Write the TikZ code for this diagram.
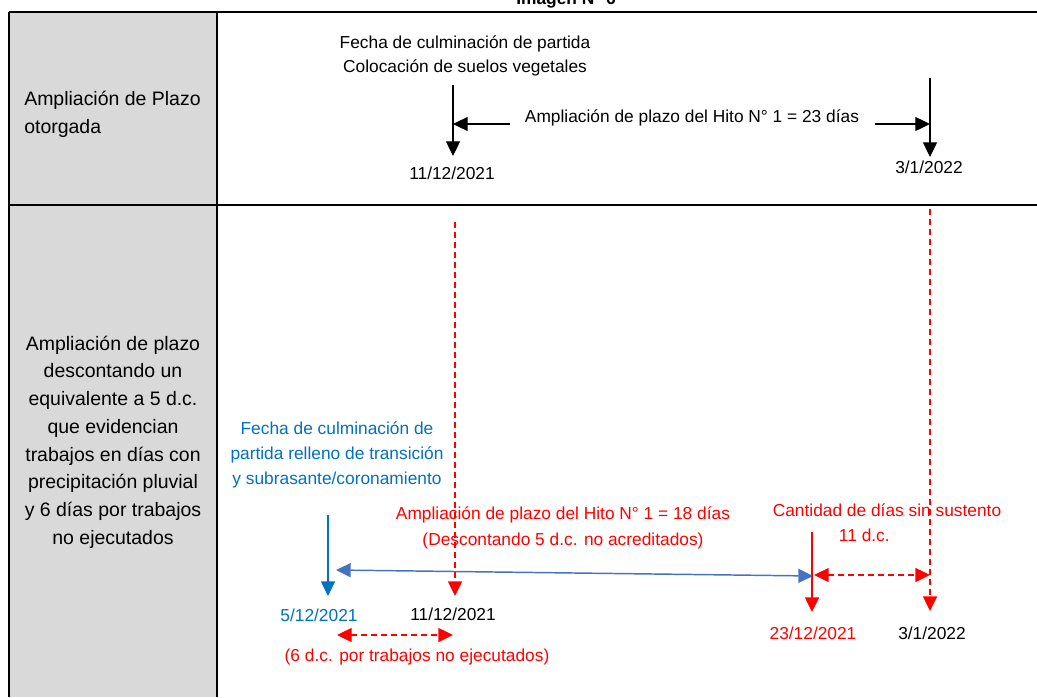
\documentclass[tikz,border=0pt]{standalone}
\usepackage{fontspec}
\setmainfont{Liberation Sans}
\usetikzlibrary{arrows.meta}
\definecolor{cellgray}{HTML}{D9D9D9}
\definecolor{tred}{HTML}{FF0000}
\definecolor{tblue}{HTML}{0070C0}
\definecolor{lblue}{HTML}{4472C4}
\tikzset{
  tbl/.style={line width=1.6pt, black},
  tip/.style={-{Triangle[length=11pt,width=10.5pt]}},
  tipboth/.style={{Triangle[length=11pt,width=10.5pt]}-{Triangle[length=11pt,width=10.5pt]}},
  blk/.style={line width=0.9pt, black},
  redsolid/.style={line width=1.1pt, tred},
  reddash/.style={line width=1pt, tred, dash pattern=on 4.5pt off 3pt},
  bluel/.style={line width=1.1pt, tblue},
  bluh/.style={line width=1.1pt, lblue},
  lbl/.style={font=\fontsize{13}{17.5}\selectfont, inner sep=0pt, align=center},
  lbl2/.style={font=\fontsize{13}{19}\selectfont, inner sep=0pt, align=center},
  side/.style={font=\fontsize{14.6}{20.8}\selectfont, inner sep=0pt},
}
\begin{document}
\begin{tikzpicture}[x=0.75pt,y=-0.75pt]
\useasboundingbox (0,0) rectangle (1037,697);
% title (cut by page edge)
\node[anchor=base, font=\fontsize{13}{15}\selectfont\bfseries, inner sep=0pt] (title) at (566,4) {Imagen N° 6};
% table
\fill[cellgray] (9,12) rectangle (217,697);
\draw[tbl] (9,12) -- (1037,12);
\draw[tbl] (9,205) -- (1037,205);
\draw[tbl] (9,12) -- (9,697);
\draw[tbl] (217,12) -- (217,697);
% left column texts
\node[side, anchor=west, align=left] (row1) at (24,114) {Ampliación de Plazo\\otorgada};
\node[side, align=center] (row2) at (113,442) {Ampliación de plazo\\descontando un\\equivalente a 5 d.c.\\que evidencian\\trabajos en días con\\precipitación pluvial\\y 6 días por trabajos\\no ejecutados};
% ---------- top row ----------
\node[lbl] (fecha1) at (465,56) {Fecha de culminación de partida\\Colocación de suelos vegetales};
\node[lbl] (amp23) at (692,118) {Ampliación de plazo del Hito N° 1 = 23 días};
\node[lbl] (d1112a) at (452,173) {11/12/2021};
\node[lbl] (d0301a) at (929,167) {3/1/2022};
\coordinate (t1s) at (453,85);
\coordinate (t1e) at (453,156);
\coordinate (t2s) at (930,78);
\coordinate (t2e) at (930,157);
\coordinate (h1s) at (510,124);
\coordinate (h1e) at (453,124);
\coordinate (h2s) at (875,124);
\coordinate (h2e) at (930,124);
\draw[blk, tip] (t1s) -- (t1e);
\draw[blk, tip] (t2s) -- (t2e);
\draw[blk, tip] (h1s) -- (h1e);
\draw[blk, tip] (h2s) -- (h2e);
% ---------- bottom row ----------
\node[lbl2, text=tblue] (fecha2) at (337,455) {Fecha de culminación de\\partida relleno de transición\\y subrasante/coronamiento};
\node[lbl2, text=tred] (amp18) at (563,528) {Ampliación de plazo del Hito N° 1 = 18 días\\(Descontando 5 d.c. no acreditados)};
\node[lbl2, text=tred] (cant) at (887,523) {Cantidad de días sin sustento\\\hspace*{-34pt}11 d.c.};
\node[lbl, text=tblue] (d0512) at (319,615) {5/12/2021};
\node[lbl] (d1112b) at (453,614) {11/12/2021};
\node[lbl, text=tred] (d2312) at (813,633) {23/12/2021};
\node[lbl] (d0301b) at (932,633) {3/1/2022};
\node[lbl, text=tred] (seis) at (417,657) {(6 d.c. por trabajos no ejecutados)};
\coordinate (r1s) at (455,222);
\coordinate (r1e) at (455,596);
\coordinate (r2s) at (930,209);
\coordinate (r2e) at (930,611);
\coordinate (b1s) at (328,515);
\coordinate (b1e) at (328,596);
\coordinate (bhL) at (336,570);
\coordinate (bhR) at (813,576);
\coordinate (r3s) at (812,532);
\coordinate (r3e) at (812,612);
\coordinate (rdL) at (814,575);
\coordinate (rdR) at (930,575);
\coordinate (r6L) at (337,635);
\coordinate (r6R) at (453,635);
\draw[reddash, tip] (r1s) -- (r1e);
\draw[reddash, tip] (r2s) -- (r2e);
\draw[bluel, tip] (b1s) -- (b1e);
\draw[bluh, tipboth] (bhL) -- (bhR);
\draw[redsolid, tip] (r3s) -- (r3e);
\draw[reddash, tipboth] (rdL) -- (rdR);
\draw[reddash, tipboth] (r6L) -- (r6R);
\end{tikzpicture}
\end{document}
